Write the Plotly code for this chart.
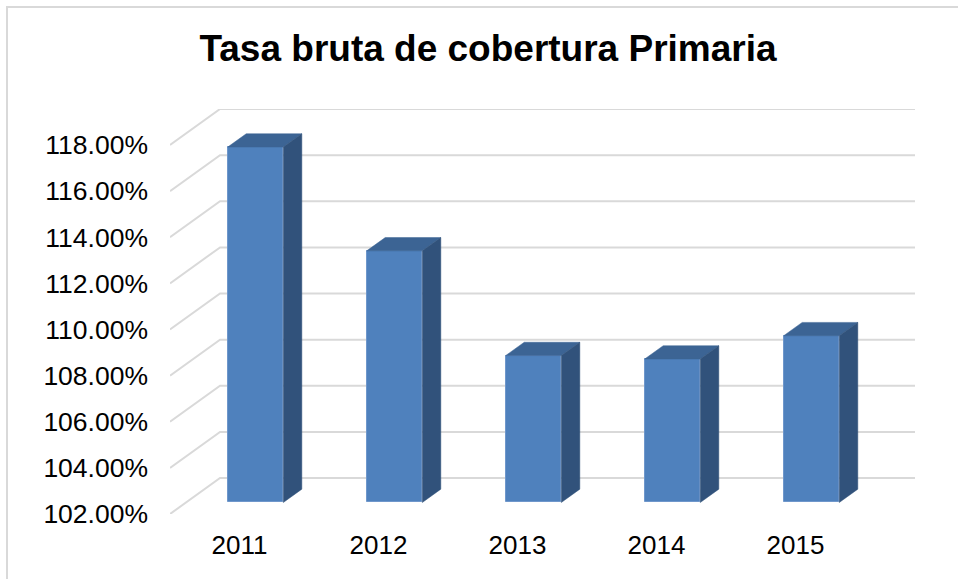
import plotly.graph_objects as go

# data
years = ["2011", "2012", "2013", "2014", "2015"]
tasa = [117.41, 112.91, 108.37, 108.22, 109.23]
ytick_vals = [102, 104, 106, 108, 110, 112, 114, 116, 118]
ytick_text = ["{:.2f}%".format(v) for v in ytick_vals]

Y_MIN = 102
DX, DY = 0.36, 1.56          # depth of the chart "room" in data units
F0, F1 = 0.32, 0.69          # bar front / back as fraction of the depth
HALF_W = 0.2

FRONT = "#4f81bd"
TOP = "#3c6494"
SIDE = "#31527b"
GRID = "#d9d9d9"
FONT = "Liberation Sans, Arial, sans-serif"

fig = go.Figure()

# gridlines on left wall + back wall, kept under the bars
shapes = []
for v in ytick_vals:
    shapes.append(dict(type="path", xref="x", yref="y", layer="below",
                       path="M {} {} L {} {} L {} {}".format(
                           -0.5, v, -0.5 + DX, v + DY,
                           len(years) - 0.5 + DX, v + DY),
                       line=dict(color=GRID, width=2)))

xs = list(range(len(years)))
fx, fy = F0 * DX, F0 * DY
bx, by = (F1 - F0) * DX, (F1 - F0) * DY

# front faces
fig.add_trace(go.Bar(
    x=[i + fx for i in xs],
    y=[t - Y_MIN for t in tasa],
    base=[Y_MIN + fy] * len(xs),
    width=2 * HALF_W,
    marker=dict(color=FRONT, line=dict(color="#6f97cb", width=1)),
    showlegend=False, hoverinfo="skip"))

# top and side faces
for i, t in zip(xs, tasa):
    L = i + fx - HALF_W
    R = i + fx + HALF_W
    top = t + fy
    bot = Y_MIN + fy
    fig.add_trace(go.Scatter(
        x=[L, R, R + bx, L + bx, L], y=[top, top, top + by, top + by, top],
        fill="toself", fillcolor=TOP, mode="lines",
        line=dict(color=TOP, width=0.5), hoverinfo="skip", showlegend=False))
    fig.add_trace(go.Scatter(
        x=[R, R, R + bx, R + bx, R], y=[bot, top, top + by, bot + by, bot],
        fill="toself", fillcolor=SIDE, mode="lines",
        line=dict(color=SIDE, width=0.5), hoverinfo="skip", showlegend=False))

fig.update_xaxes(
    range=[-0.5, len(years) - 0.5 + DX],
    tickvals=xs, ticktext=years,
    showgrid=False, zeroline=False, showline=False,
    ticks="", ticklabelstandoff=13,
    tickfont=dict(family=FONT, size=26, color="black"))
fig.update_yaxes(
    range=[Y_MIN, ytick_vals[-1] + DY],
    tickvals=ytick_vals, ticktext=ytick_text,
    showgrid=False, zeroline=False, showline=False,
    ticks="", ticklabelstandoff=21,
    tickfont=dict(family=FONT, size=26.5, color="black"))

shapes.append(dict(type="rect", xref="paper", yref="paper",
                   x0=(7 - 170) / 745, x1=(980 - 170) / 745,
                   y0=(579 - 600 - 65) / 405, y1=(579 - 7 - 65) / 405,
                   line=dict(color=GRID, width=2), layer="below"))

fig.update_layout(
    width=958, height=579,
    margin=dict(l=170, r=43, t=109, b=65),
    plot_bgcolor="white", paper_bgcolor="white",
    bargap=0,
    title=dict(text="<b>Tasa bruta de cobertura Primaria</b>",
               x=488 / 958, xanchor="center",
               y=1 - 48 / 579, yanchor="middle",
               font=dict(family=FONT, size=37, color="black")),
    shapes=shapes,
)

fig.write_html("out.html",
               config={"displayModeBar": False},
               post_script="document.body.style.margin='0';document.body.style.overflow='hidden';")
